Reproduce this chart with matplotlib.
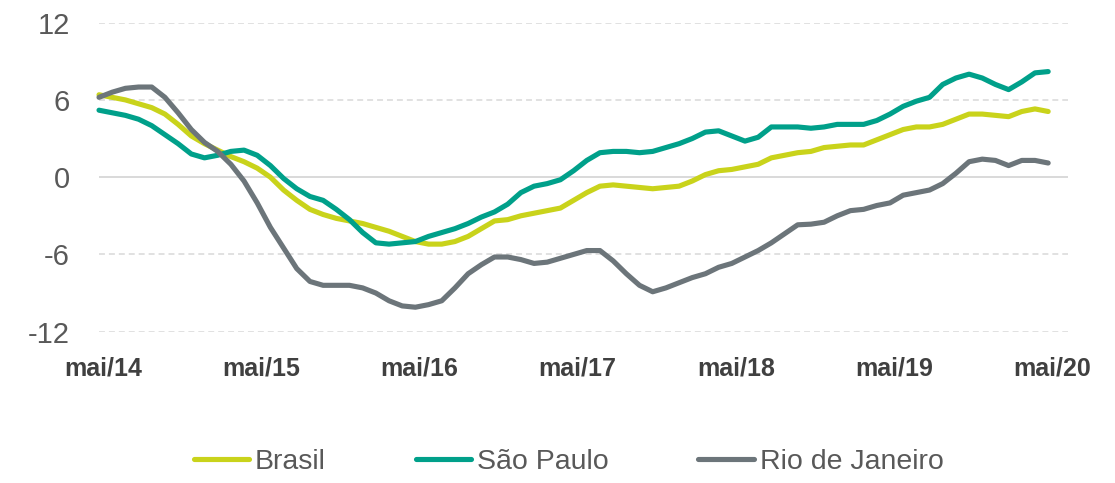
import matplotlib
matplotlib.use('Agg')
import matplotlib.pyplot as plt
import matplotlib.transforms as mtransforms

# monthly series, mai/14 .. mai/20
brasil = [6.4, 6.2, 6.0, 5.7, 5.4, 4.9, 4.1, 3.2, 2.6, 2.1, 1.6, 1.2, 0.7, 0.0,
          -1.0, -1.8, -2.5, -2.9, -3.2, -3.4, -3.6, -3.9, -4.2, -4.6, -5.0, -5.2,
          -5.2, -5.0, -4.6, -4.0, -3.4, -3.3, -3.0, -2.8, -2.6, -2.4, -1.8, -1.2,
          -0.7, -0.6, -0.7, -0.8, -0.9, -0.8, -0.7, -0.3, 0.2, 0.5, 0.6, 0.8, 1.0,
          1.5, 1.7, 1.9, 2.0, 2.3, 2.4, 2.5, 2.5, 2.9, 3.3, 3.7, 3.9, 3.9, 4.1,
          4.5, 4.9, 4.9, 4.8, 4.7, 5.1, 5.3, 5.1]
sao_paulo = [5.2, 5.0, 4.8, 4.5, 4.0, 3.3, 2.6, 1.8, 1.5, 1.7, 2.0, 2.1, 1.7, 0.9,
             -0.1, -0.9, -1.5, -1.8, -2.5, -3.3, -4.3, -5.1, -5.2, -5.1, -5.0, -4.6,
             -4.3, -4.0, -3.6, -3.1, -2.7, -2.1, -1.2, -0.7, -0.5, -0.2, 0.5, 1.3,
             1.9, 2.0, 2.0, 1.9, 2.0, 2.3, 2.6, 3.0, 3.5, 3.6, 3.2, 2.8, 3.1, 3.9,
             3.9, 3.9, 3.8, 3.9, 4.1, 4.1, 4.1, 4.4, 4.9, 5.5, 5.9, 6.2, 7.2, 7.7,
             8.0, 7.7, 7.2, 6.8, 7.4, 8.1, 8.2]
rio = [6.2, 6.6, 6.9, 7.0, 7.0, 6.2, 5.0, 3.7, 2.7, 2.0, 1.0, -0.3, -2.0, -3.9,
       -5.5, -7.1, -8.1, -8.4, -8.4, -8.4, -8.6, -9.0, -9.6, -10.0, -10.1, -9.9,
       -9.6, -8.6, -7.5, -6.8, -6.2, -6.2, -6.4, -6.7, -6.6, -6.3, -6.0, -5.7,
       -5.7, -6.5, -7.5, -8.4, -8.9, -8.6, -8.2, -7.8, -7.5, -7.0, -6.7, -6.2,
       -5.7, -5.1, -4.4, -3.7, -3.65, -3.5, -3.0, -2.6, -2.5, -2.2, -2.0, -1.4,
       -1.2, -1.0, -0.5, 0.3, 1.2, 1.4, 1.3, 0.9, 1.3, 1.3, 1.1]
x_labels = ['mai/14', 'mai/15', 'mai/16', 'mai/17', 'mai/18', 'mai/19', 'mai/20']
y_ticks = [-12, -6, 0, 6, 12]

months = list(range(len(brasil)))

fig = plt.figure(figsize=(11.15, 4.83), dpi=100)
ax = fig.add_axes([0.0888, 0.3133, 0.869, 0.6398])

# grid
for y in y_ticks:
    if y == 0:
        ax.axhline(y, color='#d9d9d9', lw=1.4, zorder=1)
    else:
        ax.axhline(y, color='#d9d9d9', lw=1.1, linestyle=(0, (3.9, 2.6)), zorder=1)

series = [('Brasil', brasil, '#C9D31B'),
          ('São Paulo', sao_paulo, '#00A08A'),
          ('Rio de Janeiro', rio, '#6C757A')]
for name, vals, col in series:
    ax.plot(months, vals, color=col, lw=3.7, label=name, clip_on=False,
            solid_capstyle='round', solid_joinstyle='round', zorder=3)

ax.set_xlim(0, 73.5)
ax.set_ylim(-12, 12)
ax.set_yticks(y_ticks)
ax.set_yticklabels([str(v) for v in y_ticks], fontsize=21, color='#595959',
                   family=['Liberation Sans', 'DejaVu Sans'])
ax.set_xticks(months[::12])
ax.set_xticklabels(x_labels, fontsize=18, fontweight='bold', color='#404040',
                   family=['Liberation Sans Narrow', 'Liberation Sans', 'DejaVu Sans'])
ax.tick_params(axis='y', length=0, pad=21)
ax.tick_params(axis='x', length=0, pad=18)
offset = mtransforms.ScaledTranslation(4 / 100, 0, fig.dpi_scale_trans)
for lbl in ax.get_xticklabels():
    lbl.set_transform(lbl.get_transform() + offset)
for s in ax.spines.values():
    s.set_visible(False)

fig.legend(loc='center', bbox_to_anchor=(0.51, 0.0435), ncol=3, frameon=False,
           prop={'family': ['Liberation Sans', 'DejaVu Sans'], 'size': 20.5},
           handlelength=1.95, handletextpad=0.2, columnspacing=3.15,
           labelcolor='#595959')

fig.savefig('out.png', dpi=100)
